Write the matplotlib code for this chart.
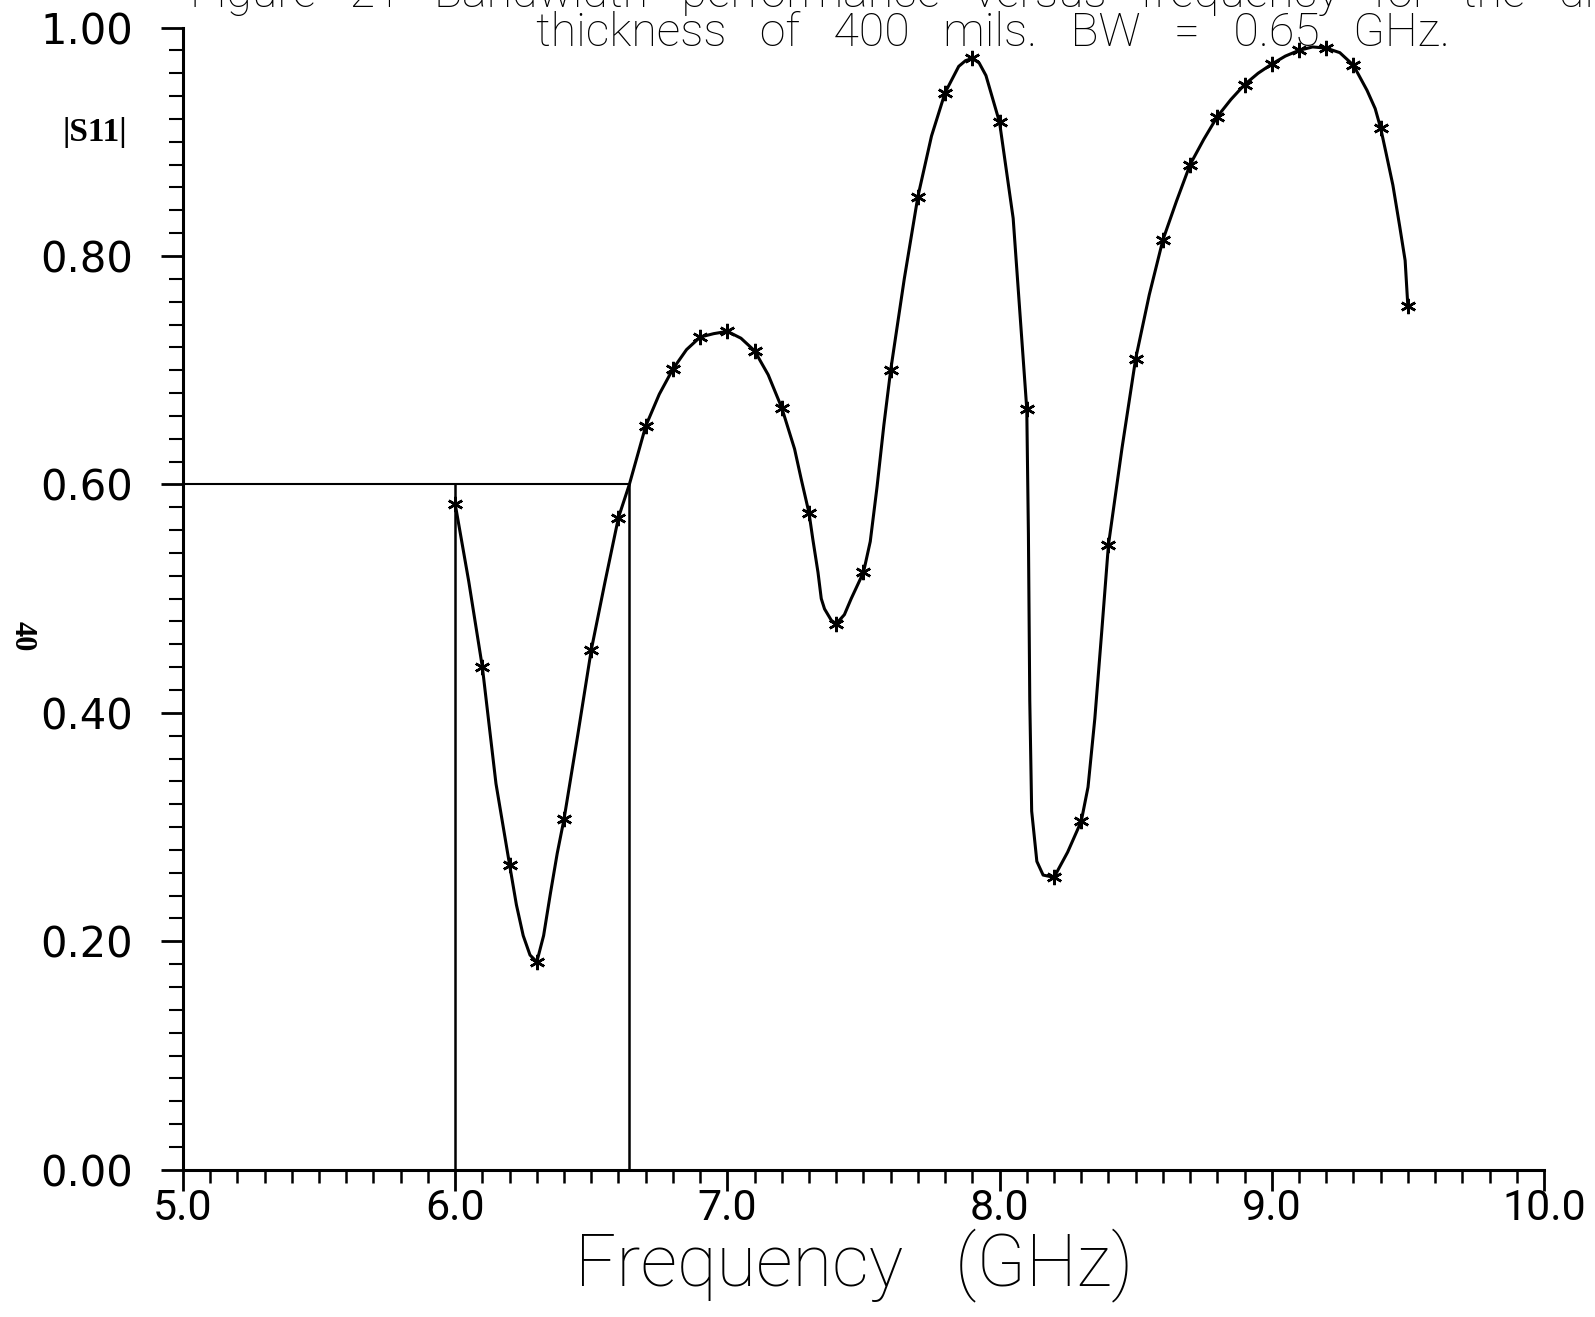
import numpy as np
import matplotlib.pyplot as plt
from matplotlib.ticker import MultipleLocator, FormatStrFormatter

marker_freq = [6.0, 6.1, 6.2, 6.3, 6.4, 6.5, 6.6, 6.7, 6.8, 6.9,
               7.0, 7.1, 7.2, 7.3, 7.4, 7.5, 7.6, 7.7, 7.8, 7.9,
               8.0, 8.1, 8.2, 8.3, 8.4, 8.5, 8.6, 8.7, 8.8, 8.9,
               9.0, 9.1, 9.2, 9.3, 9.4, 9.5]
marker_s11 = [0.583, 0.440, 0.267, 0.182, 0.307, 0.455, 0.571, 0.651, 0.701, 0.729,
              0.734, 0.717, 0.667, 0.575, 0.478, 0.523, 0.700, 0.852, 0.943, 0.973,
              0.917, 0.666, 0.256, 0.305, 0.547, 0.710, 0.814, 0.880, 0.922, 0.950,
              0.968, 0.980, 0.982, 0.967, 0.912, 0.756]

# the solid curve
curve_freq = [6.00, 6.05, 6.10, 6.15, 6.20, 6.225, 6.25, 6.275, 6.30, 6.325,
              6.35, 6.375, 6.40, 6.45, 6.50, 6.55, 6.60, 6.64, 6.70, 6.75,
              6.80, 6.85, 6.90, 6.95, 7.00, 7.05, 7.10, 7.15, 7.20, 7.247,
              7.271, 7.30, 7.314, 7.333, 7.345, 7.357, 7.382, 7.40, 7.43, 7.455,
              7.50, 7.525, 7.55, 7.575, 7.60, 7.65, 7.70, 7.75, 7.80, 7.85,
              7.875, 7.90, 7.925, 7.95, 8.00, 8.05, 8.10, 8.106, 8.111, 8.118,
              8.137, 8.16, 8.20, 8.25, 8.30, 8.325, 8.35, 8.375, 8.40, 8.45,
              8.50, 8.55, 8.60, 8.65, 8.70, 8.75, 8.80, 8.85, 8.90, 8.95,
              9.00, 9.05, 9.10, 9.15, 9.20, 9.25, 9.30, 9.35, 9.38, 9.40,
              9.42, 9.445, 9.47, 9.49, 9.50]
curve_s11 = [0.583, 0.515, 0.440, 0.338, 0.267, 0.232, 0.205, 0.188, 0.182, 0.205,
             0.242, 0.277, 0.307, 0.380, 0.455, 0.514, 0.571, 0.600, 0.651, 0.679,
             0.701, 0.718, 0.729, 0.732, 0.734, 0.728, 0.717, 0.696, 0.667, 0.631,
             0.605, 0.575, 0.552, 0.523, 0.500, 0.491, 0.481, 0.478, 0.486, 0.500,
             0.523, 0.550, 0.598, 0.652, 0.700, 0.780, 0.852, 0.905, 0.943, 0.966,
             0.971, 0.973, 0.969, 0.958, 0.917, 0.833, 0.666, 0.557, 0.411, 0.314,
             0.270, 0.258, 0.256, 0.278, 0.305, 0.335, 0.395, 0.470, 0.547, 0.632,
             0.710, 0.766, 0.814, 0.848, 0.880, 0.902, 0.922, 0.937, 0.950, 0.960,
             0.968, 0.975, 0.980, 0.983, 0.982, 0.978, 0.967, 0.945, 0.929, 0.912,
             0.890, 0.862, 0.826, 0.796, 0.756]

# bandwidth markers
band_level = 0.6
band_lo = 6.0
band_hi = 6.64

fig = plt.figure(figsize=(15.95, 13.17), dpi=100)
ax = fig.add_axes([0.1147, 0.1118, 0.8533, 0.8673])

ax.plot(curve_freq, curve_s11, color="black", linewidth=2.2, zorder=3,
        solid_joinstyle="round")
ax.plot(marker_freq, marker_s11, linestyle="none", marker=(6, 2, 0),
        markersize=11, markeredgewidth=1.8, color="black", zorder=4)

ax.plot([5.0, band_hi], [band_level, band_level], color="black", linewidth=1.5)
ax.plot([band_lo, band_lo], [0, band_level], color="black", linewidth=1.8)
ax.plot([band_hi, band_hi], [0, band_level], color="black", linewidth=1.8)

ax.set_xlim(5.0, 10.0)
ax.set_ylim(0.0, 1.0)
for side in ["top", "right"]:
    ax.spines[side].set_visible(False)
for side in ["left", "bottom"]:
    ax.spines[side].set_linewidth(2.2)

ax.xaxis.set_major_locator(MultipleLocator(1.0))
ax.xaxis.set_minor_locator(MultipleLocator(0.1))
ax.yaxis.set_major_locator(MultipleLocator(0.2))
ax.yaxis.set_minor_locator(MultipleLocator(0.02))
ax.xaxis.set_major_formatter(FormatStrFormatter("%.1f"))
ax.yaxis.set_major_formatter(FormatStrFormatter("%.2f"))

ax.tick_params(axis="x", which="major", direction="out", length=15, width=2, pad=-2, labelsize=31)
ax.tick_params(axis="x", which="minor", direction="out", length=9, width=1.8)
ax.tick_params(axis="y", which="major", direction="out", length=16, width=2, pad=20, labelsize=30)
ax.tick_params(axis="y", which="minor", direction="out", length=10, width=1.5)
for lbl in ax.get_xticklabels():
    lbl.set_family("Roboto")

thin = dict(family="Roboto", weight="light")
fig.text(854 / 1595, 1 - 1266 / 1317, "Frequency   (GHz)", fontsize=52,
         ha="center", va="center", **thin)
fig.text(536 / 1595, 1 - 46 / 1317, "thickness   of   400   mils.   BW   =   0.65   GHz.",
         fontsize=33.5, ha="left", va="baseline", **thin)
fig.text(190 / 1595, 1 - 7 / 1317,
         "Figure   21   Bandwidth   performance   versus   frequency   for   the   dielectric",
         fontsize=33.5, ha="left", va="baseline", **thin)

fig.text(95 / 1595, 1 - 133 / 1317, "|S11|", fontsize=24, fontweight="bold",
         family="Liberation Serif", ha="center", va="center")
fig.text(22 / 1595, 1 - 636 / 1317, "40", fontsize=22, fontweight="bold",
         family="Liberation Serif", rotation=-90, ha="center", va="center")

fig.savefig("out.png", dpi=100)
